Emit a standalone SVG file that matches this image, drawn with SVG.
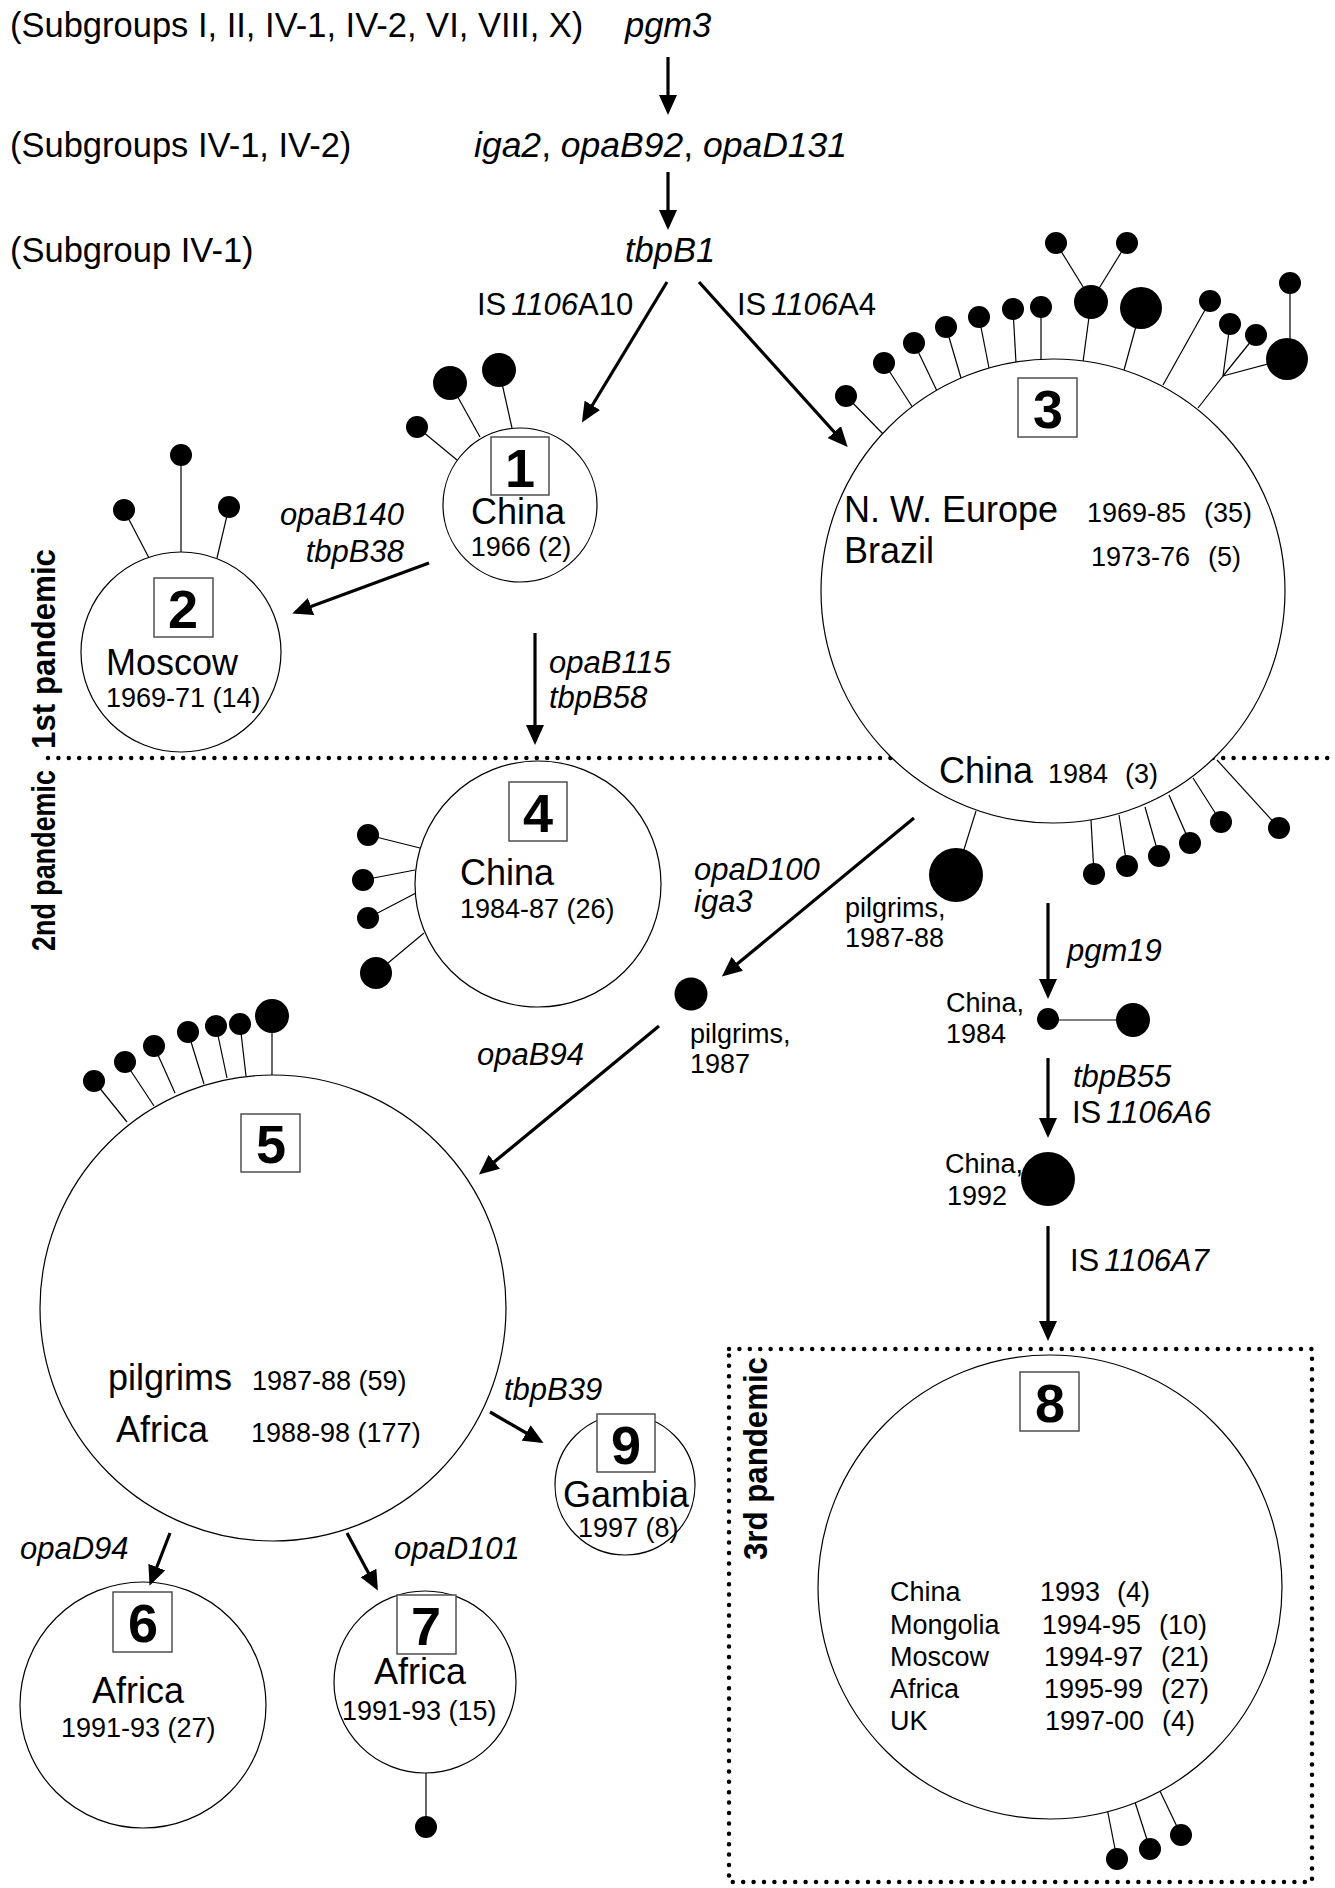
<svg xmlns="http://www.w3.org/2000/svg" width="1335" height="1888" viewBox="0 0 1335 1888">
<style>
.t{font-family:"Liberation Sans",Arial,sans-serif;fill:#000}
.top{font-size:34.5px}
.big{font-size:36px}
.sm{font-size:27px}
.lab{font-size:31px}
.i{font-style:italic}
.num{font-size:54px;font-weight:bold;text-anchor:middle}
.pan{font-size:33px;font-weight:bold}
.circ{fill:#fff;stroke:#000;stroke-width:1.2}
.stem{stroke:#000;stroke-width:1.2;fill:none}
.head{fill:#000}
.box{fill:#fff;stroke:#444;stroke-width:1.4}
.arr{stroke:#000;stroke-width:3.2;fill:none;marker-end:url(#ah)}
.dots{stroke:#000;stroke-width:4.5;stroke-dasharray:0 10.4;stroke-linecap:round;fill:none}
</style>
<defs>
<marker id="ah" markerUnits="userSpaceOnUse" viewBox="0 0 20 18" markerWidth="20" markerHeight="18" refX="16" refY="9" orient="auto">
<path d="M0,0 L20,9 L0,18 z" fill="#000"/>
</marker>
</defs>
<rect width="1335" height="1888" fill="#fff"/>

<!-- pandemic separators -->
<g id="separators">
<line class="dots" x1="48" y1="758" x2="1330" y2="758"/>
<rect class="dots" x="729" y="1349" width="583" height="533"/>
<text class="t pan" transform="translate(55,749) rotate(-90)" textLength="200" lengthAdjust="spacingAndGlyphs">1st pandemic</text>
<text class="t pan" transform="translate(55,951) rotate(-90)" textLength="181" lengthAdjust="spacingAndGlyphs">2nd pandemic</text>
<text class="t pan" transform="translate(767,1560) rotate(-90)" textLength="203" lengthAdjust="spacingAndGlyphs">3rd pandemic</text>
</g>

<!-- top lineage labels -->
<g id="lineage">
<text class="t top" x="10" y="37">(Subgroups I, II, IV-1, IV-2, VI, VIII, X)</text>
<text class="t top i" x="625" y="37">pgm3</text>
<text class="t top" x="10" y="157">(Subgroups IV-1, IV-2)</text>
<text class="t top" x="474" y="157" style="font-size:35.5px"><tspan class="i">iga2</tspan>, <tspan class="i">opaB92</tspan>, <tspan class="i">opaD131</tspan></text>
<text class="t top" x="10" y="262">(Subgroup IV-1)</text>
<text class="t top i" x="625" y="262">tbpB1</text>
</g>

<!-- node 1 -->
<g id="node1">
<line class="stem" x1="417" y1="427" x2="457" y2="460"/>
<circle class="head" cx="417" cy="427" r="11"/>
<line class="stem" x1="450" y1="383" x2="480" y2="437"/>
<circle class="head" cx="450" cy="383" r="17"/>
<line class="stem" x1="499" y1="370" x2="512" y2="428"/>
<circle class="head" cx="499" cy="370" r="17"/>
<circle class="circ" cx="520" cy="505" r="77"/>
<rect class="box" x="491" y="437" width="58" height="58"/>
<text class="t num" x="520" y="487">1</text>
<text class="t big" x="518" y="524" text-anchor="middle">China</text>
<text class="t sm" x="521" y="556" text-anchor="middle">1966 (2)</text>
</g>

<!-- node 2 -->
<g id="node2">
<line class="stem" x1="124" y1="510" x2="149" y2="558"/>
<circle class="head" cx="124" cy="510" r="11"/>
<line class="stem" x1="181" y1="455" x2="181" y2="552"/>
<circle class="head" cx="181" cy="455" r="11"/>
<line class="stem" x1="229" y1="507" x2="217" y2="558"/>
<circle class="head" cx="229" cy="507" r="11"/>
<circle class="circ" cx="181" cy="652" r="100"/>
<rect class="box" x="154" y="578" width="59" height="59"/>
<text class="t num" x="183" y="628">2</text>
<text class="t big" x="106" y="675">Moscow</text>
<text class="t sm" x="106" y="707">1969-71 (14)</text>
</g>

<!-- node 3 -->
<g id="node3">
<g class="lollipops">
<line class="stem" x1="846" y1="396" x2="883" y2="434"/><circle class="head" cx="846" cy="396" r="11"/>
<line class="stem" x1="884" y1="363" x2="913" y2="408"/><circle class="head" cx="884" cy="363" r="11"/>
<line class="stem" x1="914" y1="343" x2="937" y2="391"/><circle class="head" cx="914" cy="343" r="11"/>
<line class="stem" x1="946" y1="327" x2="961" y2="378"/><circle class="head" cx="946" cy="327" r="11"/>
<line class="stem" x1="979" y1="317" x2="989" y2="368"/><circle class="head" cx="979" cy="317" r="11"/>
<line class="stem" x1="1013" y1="309" x2="1016" y2="363"/><circle class="head" cx="1013" cy="309" r="11"/>
<line class="stem" x1="1041" y1="307" x2="1041" y2="360"/><circle class="head" cx="1041" cy="307" r="11"/>
<line class="stem" x1="1091" y1="302" x2="1083" y2="362"/><circle class="head" cx="1091" cy="302" r="17"/>
<line class="stem" x1="1085" y1="290" x2="1056" y2="243"/><circle class="head" cx="1056" cy="243" r="11"/>
<line class="stem" x1="1098" y1="290" x2="1127" y2="243"/><circle class="head" cx="1127" cy="243" r="11"/>
<line class="stem" x1="1141" y1="308" x2="1124" y2="370"/><circle class="head" cx="1141" cy="308" r="21"/>
<line class="stem" x1="1210" y1="301" x2="1163" y2="385"/><circle class="head" cx="1210" cy="301" r="11"/>
<polyline class="stem" points="1198,408 1223,376 1230,324"/><circle class="head" cx="1230" cy="324" r="11"/>
<line class="stem" x1="1223" y1="376" x2="1256" y2="335"/><circle class="head" cx="1256" cy="335" r="11"/>
<line class="stem" x1="1223" y1="376" x2="1287" y2="359"/><circle class="head" cx="1287" cy="359" r="21"/>
<line class="stem" x1="1290" y1="283" x2="1290" y2="340"/><circle class="head" cx="1290" cy="283" r="11"/>
<line class="stem" x1="956" y1="875" x2="976" y2="811"/><circle class="head" cx="956" cy="875" r="27"/>
<line class="stem" x1="1094" y1="874" x2="1091" y2="820"/><circle class="head" cx="1094" cy="874" r="11"/>
<line class="stem" x1="1127" y1="866" x2="1119" y2="815"/><circle class="head" cx="1127" cy="866" r="11"/>
<line class="stem" x1="1159" y1="856" x2="1145" y2="807"/><circle class="head" cx="1159" cy="856" r="11"/>
<line class="stem" x1="1190" y1="843" x2="1169" y2="795"/><circle class="head" cx="1190" cy="843" r="11"/>
<line class="stem" x1="1221" y1="822" x2="1193" y2="778"/><circle class="head" cx="1221" cy="822" r="11"/>
<line class="stem" x1="1279" y1="828" x2="1217" y2="760"/><circle class="head" cx="1279" cy="828" r="11"/>
</g>
<circle class="circ" cx="1053" cy="591" r="232"/>
<rect class="box" x="1018" y="378" width="59" height="59"/>
<text class="t num" x="1048" y="428">3</text>
<text class="t big" x="844" y="522">N. W. Europe</text>
<text class="t sm" x="1087" y="522">1969-85</text>
<text class="t sm" x="1204" y="522">(35)</text>
<text class="t big" x="844" y="563">Brazil</text>
<text class="t sm" x="1091" y="566">1973-76</text>
<text class="t sm" x="1208" y="566">(5)</text>
<text class="t big" x="939" y="783">China</text>
<text class="t sm" x="1048" y="783">1984</text>
<text class="t sm" x="1125" y="783">(3)</text>
<text class="t sm" x="845" y="917">pilgrims,</text>
<text class="t sm" x="845" y="947">1987-88</text>
</g>

<!-- node 4 -->
<g id="node4">
<line class="stem" x1="368" y1="835" x2="420" y2="848"/><circle class="head" cx="368" cy="835" r="11"/>
<line class="stem" x1="363" y1="880" x2="415" y2="870"/><circle class="head" cx="363" cy="880" r="11"/>
<line class="stem" x1="368" y1="918" x2="416" y2="893"/><circle class="head" cx="368" cy="918" r="11"/>
<line class="stem" x1="376" y1="973" x2="424" y2="933"/><circle class="head" cx="376" cy="973" r="16"/>
<circle class="circ" cx="538" cy="884" r="123"/>
<rect class="box" x="509" y="782" width="58" height="59"/>
<text class="t num" x="538" y="832">4</text>
<text class="t big" x="460" y="885">China</text>
<text class="t sm" x="460" y="918">1984-87 (26)</text>
</g>

<!-- pilgrims 1987 -->
<g id="pilgrims1987">
<circle class="head" cx="691" cy="994" r="16.5"/>
<text class="t sm" x="690" y="1043">pilgrims,</text>
<text class="t sm" x="690" y="1073">1987</text>
</g>

<!-- node 5 -->
<g id="node5">
<line class="stem" x1="94" y1="1081" x2="127" y2="1122"/><circle class="head" cx="94" cy="1081" r="11"/>
<line class="stem" x1="125" y1="1062" x2="154" y2="1106"/><circle class="head" cx="125" cy="1062" r="11"/>
<line class="stem" x1="154" y1="1046" x2="175" y2="1093"/><circle class="head" cx="154" cy="1046" r="11"/>
<line class="stem" x1="188" y1="1032" x2="204" y2="1084"/><circle class="head" cx="188" cy="1032" r="11"/>
<line class="stem" x1="216" y1="1026" x2="227" y2="1078"/><circle class="head" cx="216" cy="1026" r="11"/>
<line class="stem" x1="240" y1="1024" x2="246" y2="1076"/><circle class="head" cx="240" cy="1024" r="11"/>
<line class="stem" x1="272" y1="1016" x2="272" y2="1075"/><circle class="head" cx="272" cy="1016" r="17"/>
<circle class="circ" cx="273" cy="1308" r="233"/>
<rect class="box" x="241" y="1114" width="59" height="58"/>
<text class="t num" x="271" y="1163">5</text>
<text class="t big" x="108" y="1390">pilgrims</text>
<text class="t sm" x="252" y="1390">1987-88 (59)</text>
<text class="t big" x="116" y="1442">Africa</text>
<text class="t sm" x="251" y="1442">1988-98 (177)</text>
</g>

<!-- node 6 -->
<g id="node6">
<circle class="circ" cx="143" cy="1705" r="123"/>
<rect class="box" x="113" y="1592" width="59" height="60"/>
<text class="t num" x="143" y="1642">6</text>
<text class="t big" x="92" y="1703">Africa</text>
<text class="t sm" x="61" y="1737">1991-93 (27)</text>
</g>

<!-- node 7 -->
<g id="node7">
<line class="stem" x1="426" y1="1773" x2="426" y2="1827"/><circle class="head" cx="426" cy="1827" r="11"/>
<circle class="circ" cx="425" cy="1682" r="91"/>
<rect class="box" x="397" y="1595" width="59" height="59"/>
<text class="t num" x="426" y="1645">7</text>
<text class="t big" x="374" y="1684">Africa</text>
<text class="t sm" x="342" y="1720">1991-93 (15)</text>
</g>

<!-- node 9 -->
<g id="node9">
<circle class="circ" cx="625" cy="1485" r="70"/>
<rect class="box" x="597" y="1414" width="58" height="58"/>
<text class="t num" x="626" y="1464">9</text>
<text class="t big" x="563" y="1507">Gambia</text>
<text class="t sm" x="578" y="1537">1997 (8)</text>
</g>

<!-- China 1984 -->
<g id="china1984">
<line class="stem" x1="1048" y1="1020" x2="1133" y2="1020"/>
<circle class="head" cx="1048" cy="1019" r="11"/>
<circle class="head" cx="1133" cy="1020" r="17"/>
<text class="t sm" x="946" y="1012">China,</text>
<text class="t sm" x="946" y="1043">1984</text>
</g>

<!-- China 1992 -->
<g id="china1992">
<text class="t sm" x="945" y="1173">China,</text>
<text class="t sm" x="947" y="1205">1992</text>
<circle class="head" cx="1048" cy="1179" r="27"/>
</g>

<!-- node 8 -->
<g id="node8">
<line class="stem" x1="1117" y1="1859" x2="1107" y2="1808"/><circle class="head" cx="1117" cy="1859" r="11"/>
<line class="stem" x1="1150" y1="1849" x2="1134" y2="1799"/><circle class="head" cx="1150" cy="1849" r="11"/>
<line class="stem" x1="1181" y1="1835" x2="1158" y2="1787"/><circle class="head" cx="1181" cy="1835" r="11"/>
<circle class="circ" cx="1050" cy="1587" r="232"/>
<rect class="box" x="1020" y="1372" width="59" height="59"/>
<text class="t num" x="1050" y="1422">8</text>
<text class="t sm" x="890" y="1601">China</text>
<text class="t sm" x="1040" y="1601">1993</text>
<text class="t sm" x="1117" y="1601">(4)</text>
<text class="t sm" x="890" y="1634">Mongolia</text>
<text class="t sm" x="1042" y="1634">1994-95</text>
<text class="t sm" x="1159" y="1634">(10)</text>
<text class="t sm" x="890" y="1666">Moscow</text>
<text class="t sm" x="1044" y="1666">1994-97</text>
<text class="t sm" x="1161" y="1666">(21)</text>
<text class="t sm" x="890" y="1698">Africa</text>
<text class="t sm" x="1044" y="1698">1995-99</text>
<text class="t sm" x="1161" y="1698">(27)</text>
<text class="t sm" x="890" y="1730">UK</text>
<text class="t sm" x="1045" y="1730">1997-00</text>
<text class="t sm" x="1162" y="1730">(4)</text>
</g>

<!-- connectors -->
<g id="connectors">
<line class="arr" x1="668" y1="57" x2="668" y2="111"/>
<line class="arr" x1="668" y1="172" x2="668" y2="226"/>
<line class="arr" x1="667" y1="282" x2="584" y2="419"/>
<line class="arr" x1="699" y1="282" x2="845" y2="444"/>
<line class="arr" x1="429" y1="563" x2="296" y2="612"/>
<line class="arr" x1="535" y1="633" x2="535" y2="741"/>
<line class="arr" x1="914" y1="818" x2="725" y2="974"/>
<line class="arr" x1="659" y1="1026" x2="482" y2="1172"/>
<line class="arr" x1="170" y1="1533" x2="151" y2="1582"/>
<line class="arr" x1="347" y1="1533" x2="376" y2="1587"/>
<line class="arr" x1="490" y1="1412" x2="540" y2="1441"/>
<line class="arr" x1="1048" y1="903" x2="1048" y2="995"/>
<line class="arr" x1="1048" y1="1058" x2="1048" y2="1134"/>
<line class="arr" x1="1048" y1="1226" x2="1048" y2="1337"/>
</g>

<!-- connector labels -->
<g id="connector-labels">
<text class="t lab" x="477" y="315">IS<tspan class="i" dx="5">1106</tspan>A10</text>
<text class="t lab" x="737" y="315">IS<tspan class="i" dx="5">1106</tspan>A4</text>
<text class="t lab i" x="404" y="525" text-anchor="end">opaB140</text>
<text class="t lab i" x="404" y="562" text-anchor="end">tbpB38</text>
<text class="t lab i" x="549" y="673">opaB115</text>
<text class="t lab i" x="549" y="708">tbpB58</text>
<text class="t lab i" x="694" y="880">opaD100</text>
<text class="t lab i" x="694" y="912">iga3</text>
<text class="t lab i" x="477" y="1065">opaB94</text>
<text class="t lab i" x="504" y="1400">tbpB39</text>
<text class="t lab i" x="20" y="1559">opaD94</text>
<text class="t lab i" x="394" y="1559">opaD101</text>
<text class="t lab i" x="1067" y="961">pgm19</text>
<text class="t lab i" x="1073" y="1087">tbpB55</text>
<text class="t lab" x="1072" y="1123">IS<tspan class="i" dx="5">1106A6</tspan></text>
<text class="t lab" x="1070" y="1271">IS<tspan class="i" dx="5">1106A7</tspan></text>
</g>
</svg>
